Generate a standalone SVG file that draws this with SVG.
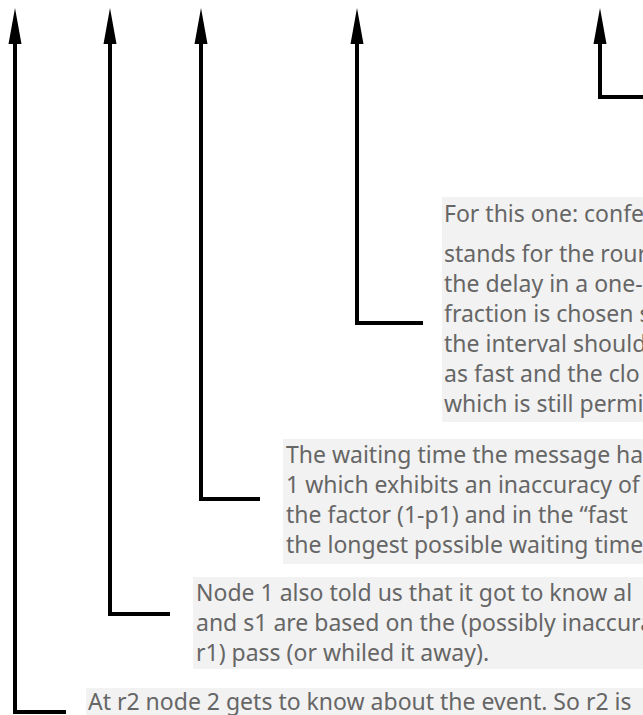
<svg xmlns="http://www.w3.org/2000/svg" width="643" height="715" viewBox="0 0 643 715">
<style>
.box{fill:#f2f2f2}
.t{font-family:"Noto Sans","Open Sans",sans-serif;font-size:23px;fill:#666}
.c{fill:none;stroke:#000;stroke-width:4;stroke-linejoin:miter}
.ah{fill:#000}
</style>
<rect width="643" height="715" fill="#fff"/>
<g id="connectors">
<path class="c" d="M66,712 H15 V43"/>
<path class="c" d="M170,614 H110 V43"/>
<path class="c" d="M260,499 H201 V43"/>
<path class="c" d="M423,323 H357 V43"/>
<path class="c" d="M643,97 H600 V43"/>
<path class="ah" d="M15,8 L21.5,44 L8.5,44 Z M110,8 L116.5,44 L103.5,44 Z M201,8 L207.5,44 L194.5,44 Z M357,8 L363.5,44 L350.5,44 Z M600,8 L606.5,44 L593.5,44 Z"/>
</g>
<g id="note1">
<rect class="box" x="442" y="197" width="220" height="225"/>
<text class="t" x="444" y="222">For this one: confe</text>
<text class="t" x="444" y="262">stands for the rour</text>
<text class="t" x="444" y="292">the delay in a one-</text>
<text class="t" x="444" y="322">fraction is chosen s</text>
<text class="t" x="444" y="352">the interval should</text>
<text class="t" x="444" y="382">as fast and the clo</text>
<text class="t" x="444" y="412">which is still permi</text>
</g>
<g id="note2">
<rect class="box" x="283" y="439" width="380" height="125"/>
<text class="t" x="286" y="463">The waiting time the message ha</text>
<text class="t" x="286" y="493">1 which exhibits an inaccuracy of</text>
<text class="t" x="286" y="523">the factor (1-p1) and in the “fast</text>
<text class="t" x="286" y="553">the longest possible waiting time</text>
</g>
<g id="note3">
<rect class="box" x="193" y="577" width="470" height="92"/>
<text class="t" x="196" y="601">Node 1 also told us that it got to know al</text>
<text class="t" x="196" y="631">and s1 are based on the (possibly inaccura</text>
<text class="t" x="196" y="661">r1) pass (or whiled it away).</text>
</g>
<g id="note4">
<rect class="box" x="86" y="688" width="577" height="40"/>
<text class="t" x="88" y="710">At r2 node 2 gets to know about the event. So r2 is</text>
</g>
</svg>
